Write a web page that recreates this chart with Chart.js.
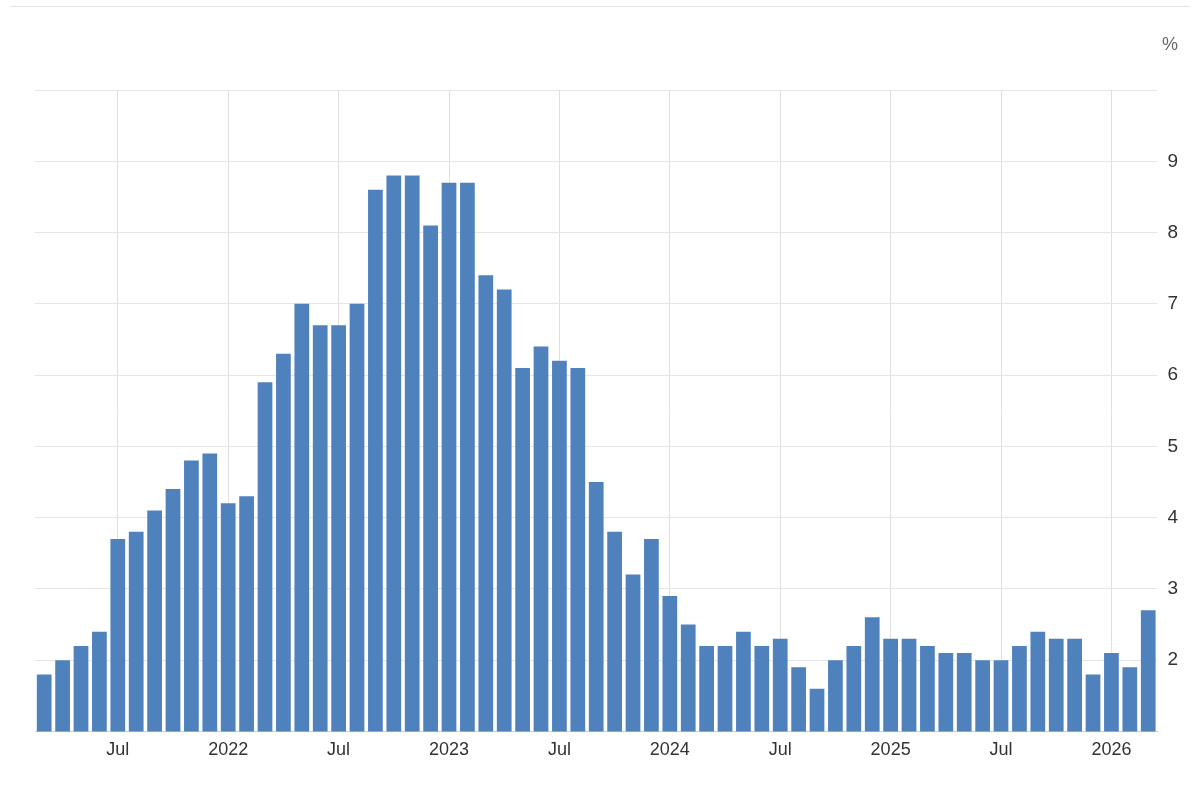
<!DOCTYPE html>
<html><head><meta charset="utf-8">
<script src="https://cdn.jsdelivr.net/npm/chart.js@4/dist/chart.umd.min.js"></script>
<style>html,body{margin:0;background:#fff}#w{position:relative;width:1200px;height:799px}
#pct{position:absolute;left:1162px;top:34px;font:18px Arial,"Liberation Sans";color:#666}
#tl{position:absolute;left:10px;right:10px;top:6px;height:1px;background:#e3e3e3}</style>
</head><body><div id="w"><div id="tl"></div><div id="pct">%</div><canvas id="c" width="1200" height="799"></canvas></div>
<script>
const startYear = 2021, startMonth = 2;
const values = [1.8,2.0,2.2,2.4,3.7,3.8,4.1,4.4,4.8,4.9,4.2,4.3,5.9,6.3,7.0,6.7,6.7,7.0,8.6,8.8,8.8,8.1,8.7,8.7,7.4,7.2,6.1,6.4,6.2,6.1,4.5,3.8,3.2,3.7,2.9,2.5,2.2,2.2,2.4,2.2,2.3,1.9,1.6,2.0,2.2,2.6,2.3,2.3,2.2,2.1,2.1,2.0,2.0,2.2,2.4,2.3,2.3,1.8,2.1,1.9,2.7];
const yTicks = [2,3,4,5,6,7,8,9];
const labels = values.map((v,i)=>{const m=(startMonth+i)%12, y=startYear+Math.floor((startMonth+i)/12); return m===0?String(y):(m===6?"Jul":"");});
new Chart(document.getElementById('c'),{type:'bar',
data:{labels,datasets:[{data:values,backgroundColor:'#4f81bd',barPercentage:0.8,categoryPercentage:1}]},
options:{responsive:false,animation:false,layout:{padding:{left:35,right:12,top:90,bottom:30}},
plugins:{legend:{display:false},tooltip:{enabled:false}},
scales:{x:{offset:true,grid:{offset:false,display:true,drawTicks:false,color:c=>labels[c.index]?'#e0e0e0':'rgba(0,0,0,0)',tickBorderDash:[2,2]},border:{display:true,color:'#ccc'},
 ticks:{autoSkip:false,maxRotation:0,padding:8,color:'#333',font:{size:18,family:'Arial'},callback:(v,i)=>labels[i]}},
 y:{position:'right',min:1,max:10,grid:{color:c=>c.tick.value!==1?'#e6e6e6':'rgba(0,0,0,0)',drawTicks:false},border:{display:false},
 afterBuildTicks:a=>{a.ticks=[1,...yTicks,10].map(v=>({value:v}));},
 ticks:{padding:10,color:'#333',font:{size:19,family:'Arial'},callback:v=>yTicks.includes(v)?v:''}}}}});
</script></body></html>
